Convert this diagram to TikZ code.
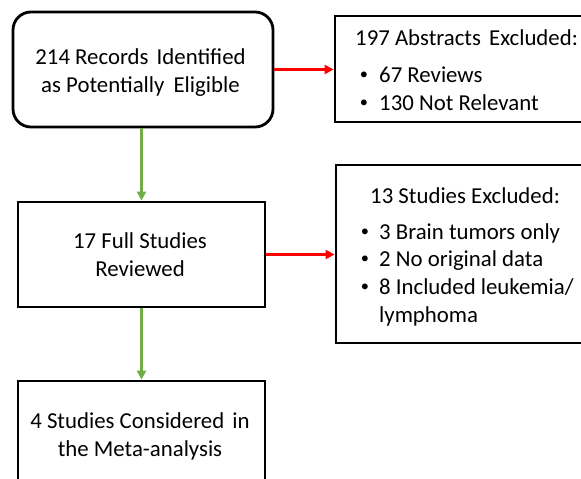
\documentclass[tikz,border=0pt]{standalone}
\usepackage{fontspec}
\setmainfont{Carlito}
\usetikzlibrary{arrows.meta}
\definecolor{okgreen}{HTML}{70AD47}
\definecolor{okred}{HTML}{FF0000}
\newcommand{\smallbul}{\raisebox{0.11em}{\scalebox{0.72}{•}}}
\begin{document}
\begin{tikzpicture}[x=1pt,y=-1pt,
  box/.style={draw=black, line width=2.8pt, fill=white, inner sep=0pt},
  txt/.style={inner sep=0pt, anchor=base, font=\fontsize{22.8}{28}\selectfont},
  ltxt/.style={txt, anchor=base west},
  bul/.style={txt, anchor=base},
  garrow/.style={draw=okgreen, line width=2.8pt, -{Triangle[length=9pt,width=9pt]}},
  rarrow/.style={draw=okred, line width=2.8pt, -{Triangle[length=9pt,width=9pt]}}]
\useasboundingbox (0,0) rectangle (581,479);
\clip (0,0) rectangle (581,479);
\fill[white] (0,0) rectangle (581,479);

% boxes
\node[box, rounded corners=18pt, minimum width=260pt, minimum height=115pt] (rec) at (143,69.5) {};
\node[box, minimum width=260pt, minimum height=106pt] (abs) at (465,69) {};
\node[box, minimum width=247pt, minimum height=105pt] (full) at (141.5,254.5) {};
\node[box, minimum width=260pt, minimum height=178pt] (exc) at (466,254) {};
\node[box, minimum width=247pt, minimum height=105pt] (meta) at (141.5,433.5) {};

% texts box 1
\node[txt] (rec1) at (140.5,64) {214 Records\hspace{3pt} Identified};
\node[txt] (rec2) at (140.5,92) {as Potentially\hspace{4pt} Eligible};
% box 2
\node[ltxt] (abs0) at (355,45) {197 Abstracts\hspace{3pt} Excluded:};
\node[bul] (absb1) at (364,82) {\smallbul};
\node[ltxt] (abs1) at (379,82) {67 Reviews};
\node[bul] (absb2) at (364,110) {\smallbul};
\node[ltxt] (abs2) at (379,110) {130 Not Relevant};
% box 3
\node[txt] (full1) at (140,248) {17 Full Studies};
\node[txt] (full2) at (140,276) {Reviewed};
% box 4
\node[ltxt] (exc0) at (370,203) {13 Studies Excluded:};
\node[bul] (excb1) at (365,239) {\smallbul};
\node[ltxt] (exc1) at (379,239) {3 Brain tumors only};
\node[bul] (excb2) at (365,266) {\smallbul};
\node[ltxt] (exc2) at (379,266) {2 No original data};
\node[bul] (excb3) at (365,294) {\smallbul};
\node[ltxt] (exc3) at (379,294) {8 Included leukemia/};
\node[ltxt] (exc4) at (379,322) {lymphoma};
% box 5
\node[txt] (meta1) at (140,428) {4 Studies Considered\hspace{3pt} in};
\node[txt] (meta2) at (140,456) {the Meta-analysis};

% connectors
\draw[garrow] (rec.south -| full.north) -- (full.north);
\draw[garrow] (full.south) -- (meta.north);
\draw[rarrow] (rec.east) -- (abs.west |- rec.east);
\draw[rarrow] (full.east) -- (exc.west |- full.east);
\end{tikzpicture}
\end{document}
